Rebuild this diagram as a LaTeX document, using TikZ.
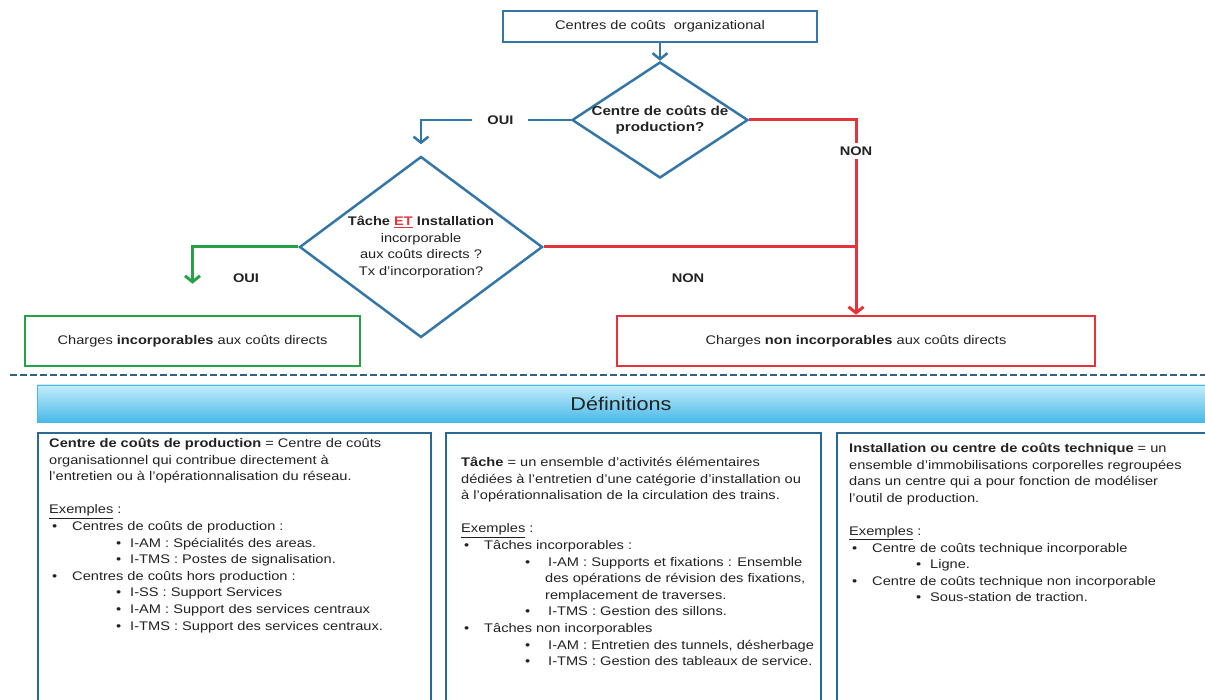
\documentclass[tikz,border=0pt]{standalone}
\usepackage{fontspec}
\setmainfont{Liberation Sans}[FakeStretch=1.17]
\usetikzlibrary{shapes.geometric,arrows.meta,positioning}

\definecolor{flowblue}{RGB}{52,118,168}
\definecolor{flowred}{RGB}{226,52,58}
\definecolor{flowgreen}{RGB}{40,160,72}
\definecolor{dashblue}{RGB}{50,96,130}
\definecolor{barlight}{RGB}{196,236,251}
\definecolor{bardark}{RGB}{72,186,232}
\definecolor{boxblue}{RGB}{42,104,150}
\definecolor{ink}{RGB}{34,34,34}

\newcommand{\bulA}{\hspace*{3pt}\makebox[20pt][l]{\textbullet}}
\newcommand{\bulB}[2][67pt]{\hspace*{#1}\makebox[#2][l]{\textbullet}}
\newcommand{\contB}{\hspace*{84pt}}

\begin{document}
\begin{tikzpicture}[x=1pt,y=-1pt,text=ink,
  font=\fontsize{12.5}{16.6}\selectfont,
  flowbox/.style={draw,line width=2.5pt,inner sep=0pt,fill=white},
  decision/.style={diamond,draw=flowblue,line width=2.5pt,align=center,inner sep=-2pt},
  lbl/.style={font=\fontsize{12.5}{15}\selectfont\bfseries},
  arr/.style={-{Straight Barb[length=6pt,width=15pt]}},
  defbox/.style={draw=boxblue,line width=2pt,anchor=north west},
  deftext/.style={align=left,inner sep=0pt}]
\clip (0,0) rectangle (1205,700);

% flow chart
\node [flowbox,draw=flowblue,minimum width=314,minimum height=31] (org) at (660,26.5) {Centres de coûts\ \ organizational};
\node [decision,aspect=1.52,minimum width=176,minimum height=116,font=\fontsize{13}{16.6}\selectfont\bfseries] (prod) at (660,120) {Centre de coûts de\\production?};
\node [decision,aspect=1.34,minimum width=243,minimum height=181] (task) at (421,247)
  {\textbf{Tâche \textcolor{flowred}{\underline{ET}} Installation}\\incorporable\\aux coûts directs ?\\Tx d'incorporation?};
\node [flowbox,draw=flowgreen,minimum width=335,minimum height=50] (incbox) at (192.5,341) {Charges \textbf{incorporables} aux coûts directs};
\node [flowbox,draw=flowred,minimum width=478,minimum height=50] (nonbox) at (856,341) {Charges \textbf{non incorporables} aux coûts directs};

\draw [arr,draw=flowblue,line width=2.5pt] (org) -- (prod);
\draw [arr,draw=flowblue,line width=2.5pt,shorten >=11pt] (prod.west) -| node [lbl,pos=0.235,fill=white,inner xsep=15pt] (ouiA) {OUI} (task.north);
\draw [arr,draw=flowred,line width=3pt] (prod.east) -| node [lbl,pos=0.58,fill=white] (nonA) {NON} (nonbox.north);
\draw [draw=flowred,line width=3pt] (task.east) -- (task.east -| nonbox.north);
\draw [arr,draw=flowgreen,line width=3pt,shorten >=31pt] (task.west) -| (incbox.north);
\node [lbl] (nonB) at (688,278) {NON};
\node [lbl] (ouiB) at (246,278) {OUI};

\draw [dashblue,line width=2pt,dash pattern=on 7pt off 3pt] (10,375) -- (1205,375);

% definitions
\node [draw=bardark,line width=0.8pt,top color=barlight,bottom color=bardark,minimum width=1168,minimum height=37,font=\fontsize{18.5}{22}\selectfont] (defs) at (621,403.5) {Définitions};

\node [defbox,minimum width=393,minimum height=290] (defA) at (37,432) {};
\node [defbox,minimum width=375,minimum height=290] (defB) at (445,432) {};
\node [defbox,minimum width=385,minimum height=290] (defC) at (836,432) {};

\node [deftext,below right=6pt and 12pt of defA.north west] (txtA) {%
\textbf{Centre de coûts de production} = Centre de coûts\\
organisationnel qui contribue directement à\\
l'entretien ou à l'opérationnalisation du réseau.\\[16.6pt]
\underline{Exemples} :\\
\bulA Centres de coûts de production :\\
\bulB{14pt}I-AM : Spécialités des areas.\\
\bulB{14pt}I-TMS : Postes de signalisation.\\
\bulA Centres de coûts hors production :\\
\bulB{14pt}I-SS : Support Services\\
\bulB{14pt}I-AM : Support des services centraux\\
\bulB{14pt}I-TMS : Support des services centraux.};

\node [deftext,below right=25pt and 16pt of defB.north west] (txtB) {%
\textbf{Tâche} = un ensemble d'activités élémentaires\\
dédiées à l'entretien d'une catégorie d'installation ou\\
à l'opérationnalisation de la circulation des trains.\\[16.6pt]
\underline{Exemples} :\\
\bulA Tâches incorporables :\\
\bulB[64pt]{23pt}I-AM : Supports et fixations : Ensemble\\
\contB des opérations de révision des fixations,\\
\contB remplacement de traverses.\\
\bulB[64pt]{23pt}I-TMS : Gestion des sillons.\\
\bulA Tâches non incorporables\\
\bulB[64pt]{23pt}I-AM : Entretien des tunnels, désherbage\\
\bulB[64pt]{23pt}I-TMS : Gestion des tableaux de service.};

\node [deftext,below right=11pt and 13pt of defC.north west] (txtC) {%
\textbf{Installation ou centre de coûts technique} = un\\
ensemble d'immobilisations corporelles regroupées\\
dans un centre qui a pour fonction de modéliser\\
l'outil de production.\\[16.6pt]
\underline{Exemples} :\\
\bulA Centre de coûts technique incorporable\\
\bulB{14pt}Ligne.\\
\bulA Centre de coûts technique non incorporable\\
\bulB{14pt}Sous-station de traction.};

\end{tikzpicture}
\end{document}
